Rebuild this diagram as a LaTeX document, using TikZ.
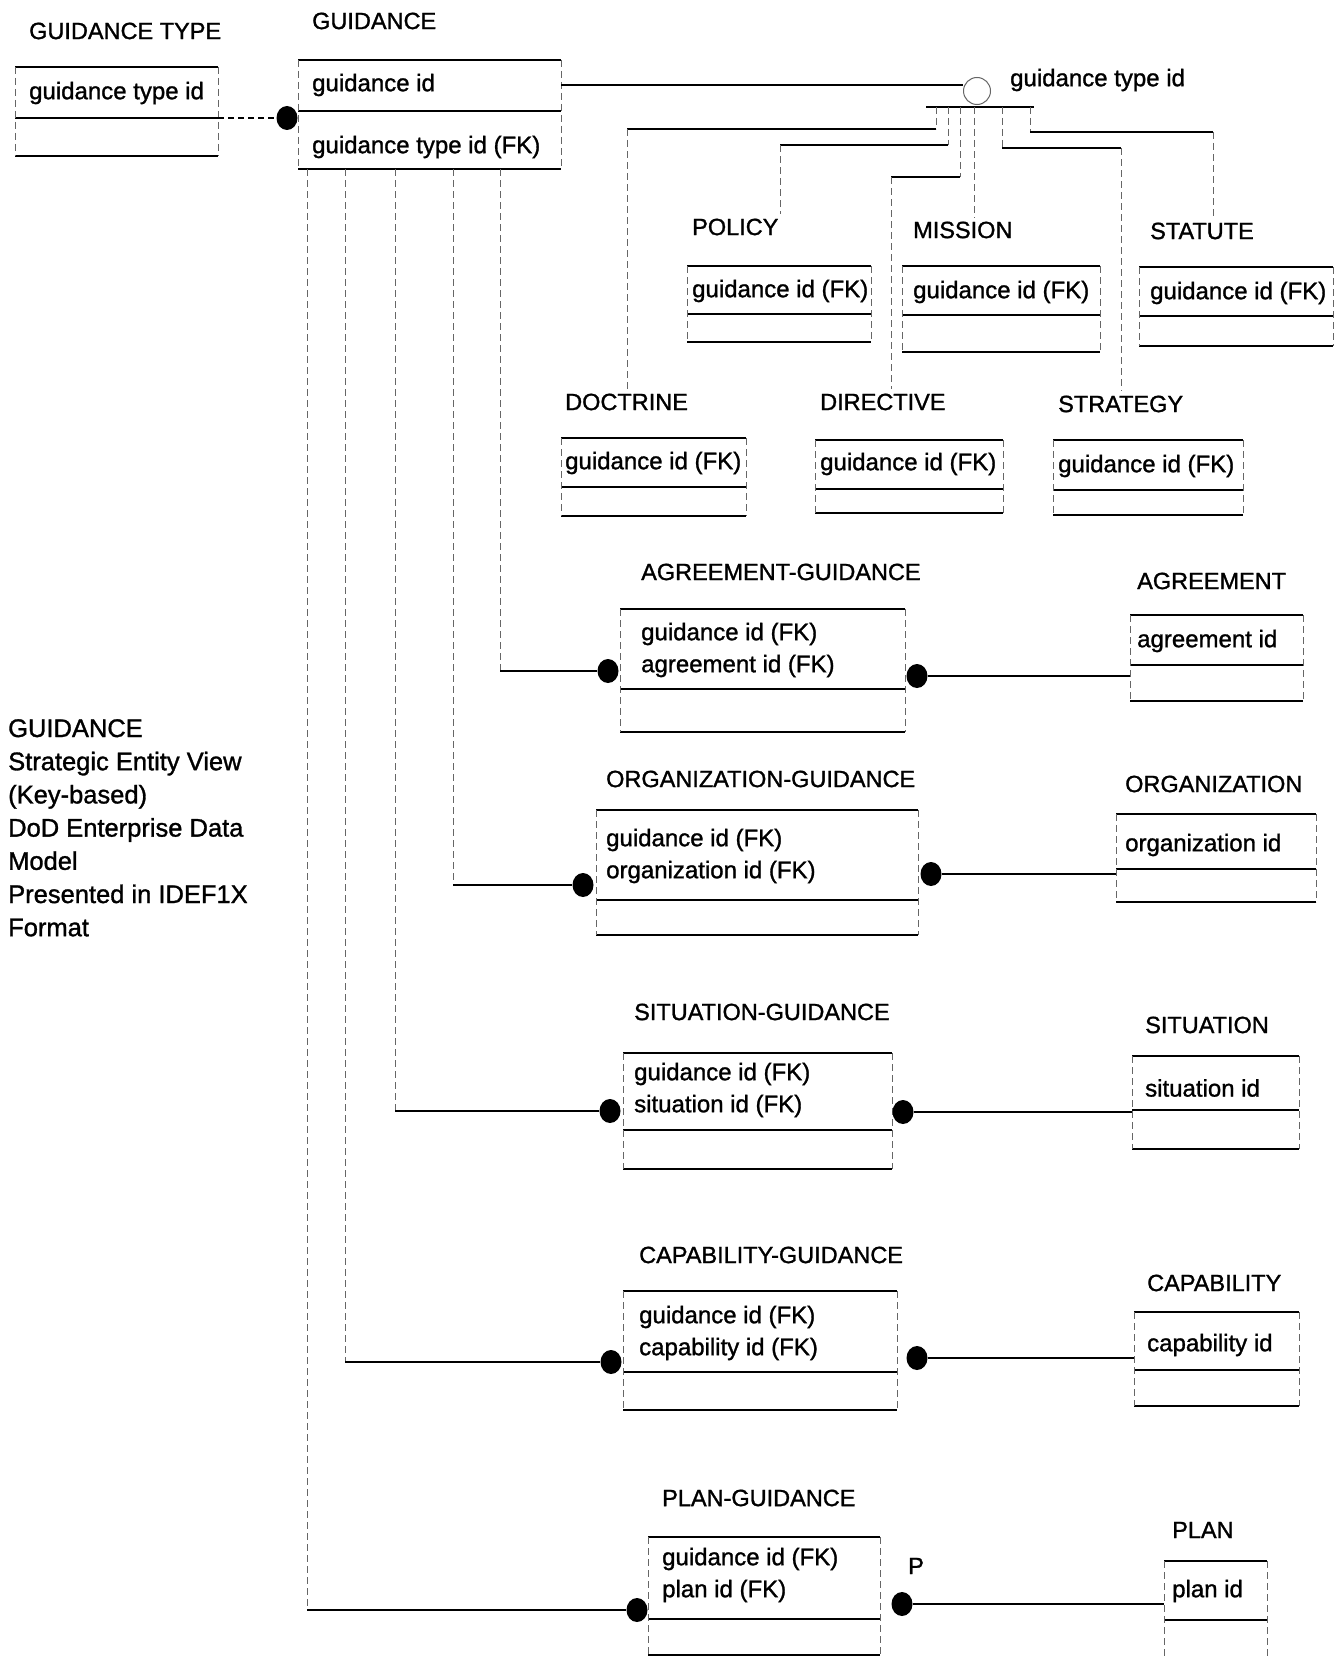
\documentclass[tikz,border=0pt]{standalone}
\usepackage{fontspec}
\setmainfont{Liberation Sans}[FakeBold=1.2]
\usetikzlibrary{shapes.geometric,calc}
\tikzset{
 hl/.style={line width=1.5pt, black},
 vl/.style={line width=0.9pt, black!60, dash pattern=on 7pt off 4pt},
 nonid/.style={line width=1.2pt, black, dash pattern=on 6pt off 4pt},
 rel/.style={line width=1.5pt, black},
 ttl/.style={anchor=west, inner sep=0pt, font=\fontsize{23.5}{32}\selectfont},
 att/.style={anchor=west, inner sep=0pt, align=left, font=\fontsize{24}{32}\selectfont},
 rdot/.style={ellipse, fill=black, minimum width=21pt, minimum height=24pt, inner sep=0pt},
 catc/.style={circle, draw=black!60, line width=1pt, minimum size=27pt, inner sep=0pt},
}
\newcommand{\entbox}[6]{%
 \coordinate (#1-tl) at (#2,#3);
 \coordinate (#1-tr) at (#2+#4,#3);
 \coordinate (#1-ml) at (#2,#3+#5);
 \coordinate (#1-mr) at (#2+#4,#3+#5);
 \coordinate (#1-bl) at (#2,#3+#5+#6);
 \coordinate (#1-br) at (#2+#4,#3+#5+#6);
 \draw[hl] (#1-tl)--(#1-tr) (#1-ml)--(#1-mr) (#1-bl)--(#1-br);
 \draw[vl] (#1-tl)--(#1-bl) (#1-tr)--(#1-br);
}
\begin{document}
\begin{tikzpicture}[x=1pt,y=-1pt]
\fill[white] (0,0) rectangle (1334,1659);
\useasboundingbox (0,0) rectangle (1334,1659);

% GUIDANCE TYPE
\entbox{gt}{15}{67}{203}{51}{38}
\node[ttl] (gt-t) at (29,31) {GUIDANCE TYPE};
\node[att] (gt-k) at (29,93) {guidance type id};

% GUIDANCE
\entbox{g}{298}{60}{263}{51}{58}
\node[ttl] (g-t) at (312,21) {GUIDANCE};
\node[att] (g-k) at (312,85) {guidance id};
\node[att] (g-n) at (312,147) {guidance type id (FK)};
\node[rdot] (gdot) at (287,118) {};
\draw[nonid] (gt-mr) -- (gdot);

% category
\coordinate (g-r) at (561,85);
\node[catc] (cat) at (977,91) {};
\draw[hl] (g-r) -- (g-r -| cat.west);
\coordinate (catL) at (926,107);
\coordinate (catR) at (1034,107);
\draw[hl] (catL) -- (catR);
\node[att] (cat-l) at (1010,80) {guidance type id};

% subtypes
\entbox{pol}{687}{266}{184}{48}{28}
\node[ttl] (pol-t) at (692,227) {POLICY};
\node[att] (pol-k) at (692,291) {guidance id (FK)};
\entbox{mis}{902}{266}{198}{49}{37}
\node[ttl] (mis-t) at (913,230) {MISSION};
\node[att] (mis-k) at (913,292) {guidance id (FK)};
\entbox{sta}{1139}{267}{194}{49}{30}
\node[ttl] (sta-t) at (1150,231) {STATUTE};
\node[att] (sta-k) at (1150,293) {guidance id (FK)};
\entbox{doc}{561}{438}{185}{49}{29}
\node[ttl] (doc-t) at (565,402) {DOCTRINE};
\node[att] (doc-k) at (565,463) {guidance id (FK)};
\entbox{dir}{815}{440}{188}{49}{24}
\node[ttl] (dir-t) at (820,402) {DIRECTIVE};
\node[att] (dir-k) at (820,464) {guidance id (FK)};
\entbox{str}{1053}{440}{190}{50}{25}
\node[ttl] (str-t) at (1058,404) {STRATEGY};
\node[att] (str-k) at (1058,466) {guidance id (FK)};

% branches
\coordinate (bD) at (936,107); \coordinate (hD) at (627,129);
\draw[vl] (bD) -- (bD |- hD); \draw[hl] (bD |- hD) -- (hD);
\draw[vl,shorten >=4pt] (hD) -- (hD |- doc-t.north);
\coordinate (bP) at (948,107); \coordinate (hP) at (780,145);
\draw[vl] (bP) -- (bP |- hP); \draw[hl] (bP |- hP) -- (hP);
\draw[vl,shorten >=4pt] (hP) -- (hP |- pol-t.north);
\coordinate (bR) at (960,107); \coordinate (hR) at (891,177);
\draw[vl] (bR) -- (bR |- hR); \draw[hl] (bR |- hR) -- (hR);
\draw[vl,shorten >=4pt] (hR) -- (hR |- dir-t.north);
\coordinate (bM) at (974,107);
\draw[vl,shorten >=4pt] (bM) -- (bM |- mis-t.north);
\coordinate (bS) at (1002,107); \coordinate (hS) at (1121,148);
\draw[vl] (bS) -- (bS |- hS); \draw[hl] (bS |- hS) -- (hS);
\draw[vl,shorten >=4pt] (hS) -- (hS |- str-t.north);
\coordinate (bT) at (1030,107); \coordinate (hT) at (1213,132);
\draw[vl] (bT) -- (bT |- hT); \draw[hl] (bT |- hT) -- (hT);
\draw[vl,shorten >=4pt] (hT) -- (hT |- sta-t.north);

% AGREEMENT-GUIDANCE
\entbox{ag}{620}{609}{285}{80}{43}
\node[ttl] (ag-t) at (641,572) {AGREEMENT-GUIDANCE};
\node[att] (ag-k) at (641,650) {guidance id (FK)\\agreement id (FK)};
\entbox{agr}{1130}{615}{173}{50}{36}
\node[ttl] (agr-t) at (1137,581) {AGREEMENT};
\node[att] (agr-k) at (1137,641) {agreement id};
\node[rdot] (agL) at (608,671) {};
\node[rdot] (agR) at (917,676) {};

% ORGANIZATION-GUIDANCE
\entbox{og}{596}{810}{322}{90}{35}
\node[ttl] (og-t) at (606,779) {ORGANIZATION-GUIDANCE};
\node[att] (og-k) at (606,856) {guidance id (FK)\\organization id (FK)};
\entbox{org}{1116}{814}{200}{55}{33}
\node[ttl] (org-t) at (1125,784) {ORGANIZATION};
\node[att] (org-k) at (1125,845) {organization id};
\node[rdot] (ogL) at (583,885) {};
\node[rdot] (ogR) at (931,874) {};

% SITUATION-GUIDANCE
\entbox{sg}{623}{1053}{269}{77}{39}
\node[ttl] (sg-t) at (634,1012) {SITUATION-GUIDANCE};
\node[att] (sg-k) at (634,1090) {guidance id (FK)\\situation id (FK)};
\entbox{sit}{1132}{1056}{167}{54}{39}
\node[ttl] (sit-t) at (1145,1025) {SITUATION};
\node[att] (sit-k) at (1145,1088) {situation id};
\node[rdot] (sgL) at (610,1111) {};
\node[rdot] (sgR) at (903,1112) {};

% CAPABILITY-GUIDANCE
\entbox{cg}{623}{1291}{274}{81}{38}
\node[ttl] (cg-t) at (639,1255) {CAPABILITY-GUIDANCE};
\node[att] (cg-k) at (639,1333) {guidance id (FK)\\capability id (FK)};
\entbox{cap}{1134}{1312}{165}{58}{36}
\node[ttl] (cap-t) at (1147,1283) {CAPABILITY};
\node[att] (cap-k) at (1147,1345) {capability id};
\node[rdot] (cgL) at (611,1362) {};
\node[rdot] (cgR) at (917,1358) {};

% PLAN-GUIDANCE
\entbox{pg}{648}{1537}{232}{82}{36}
\node[ttl] (pg-t) at (662,1498) {PLAN-GUIDANCE};
\node[att] (pg-k) at (662,1575) {guidance id (FK)\\plan id (FK)};
\coordinate (pl-tl) at (1164,1561); \coordinate (pl-tr) at (1267,1561);
\coordinate (pl-ml) at (1164,1620); \coordinate (pl-mr) at (1267,1620);
\coordinate (pl-bl) at (1164,1659); \coordinate (pl-br) at (1267,1659);
\draw[hl] (pl-tl) -- (pl-tr) (pl-ml) -- (pl-mr);
\draw[vl] (pl-tl) -- (pl-bl) (pl-tr) -- (pl-br);
\node[ttl] (pl-t) at (1172,1530) {PLAN};
\node[att] (pl-k) at (1172,1591) {plan id};
\node[rdot] (pgL) at (637,1610) {};
\node[rdot] (pgR) at (902,1604) {};
\node[ttl] (pp) at (908,1566) {P};

% relationships from GUIDANCE
\coordinate (g1) at (307,169);
\coordinate (g2) at (345,169);
\coordinate (g3) at (395,169);
\coordinate (g4) at (453,169);
\coordinate (g5) at (500,169);
\draw[vl] (g5) -- (g5 |- agL); \draw[rel] (g5 |- agL) -- (agL);
\draw[vl] (g4) -- (g4 |- ogL); \draw[rel] (g4 |- ogL) -- (ogL);
\draw[vl] (g3) -- (g3 |- sgL); \draw[rel] (g3 |- sgL) -- (sgL);
\draw[vl] (g2) -- (g2 |- cgL); \draw[rel] (g2 |- cgL) -- (cgL);
\draw[vl] (g1) -- (g1 |- pgL); \draw[rel] (g1 |- pgL) -- (pgL);

% relationships to the other parents
\draw[rel] (agR) -- (agR -| agr-tl);
\draw[rel] (ogR) -- (ogR -| org-tl);
\draw[rel] (sgR) -- (sgR -| sit-tl);
\draw[rel] (cgR) -- (cgR -| cap-tl);
\draw[rel] (pgR) -- (pgR -| pl-tl);

% description
\node[anchor=north west, inner sep=0pt, align=left, font=\fontsize{25.5}{33.2}\selectfont] (desc) at (8,719)
 {GUIDANCE\\Strategic Entity View\\(Key-based)\\DoD Enterprise Data\\Model\\Presented in IDEF1X\\Format};
\end{tikzpicture}
\end{document}
